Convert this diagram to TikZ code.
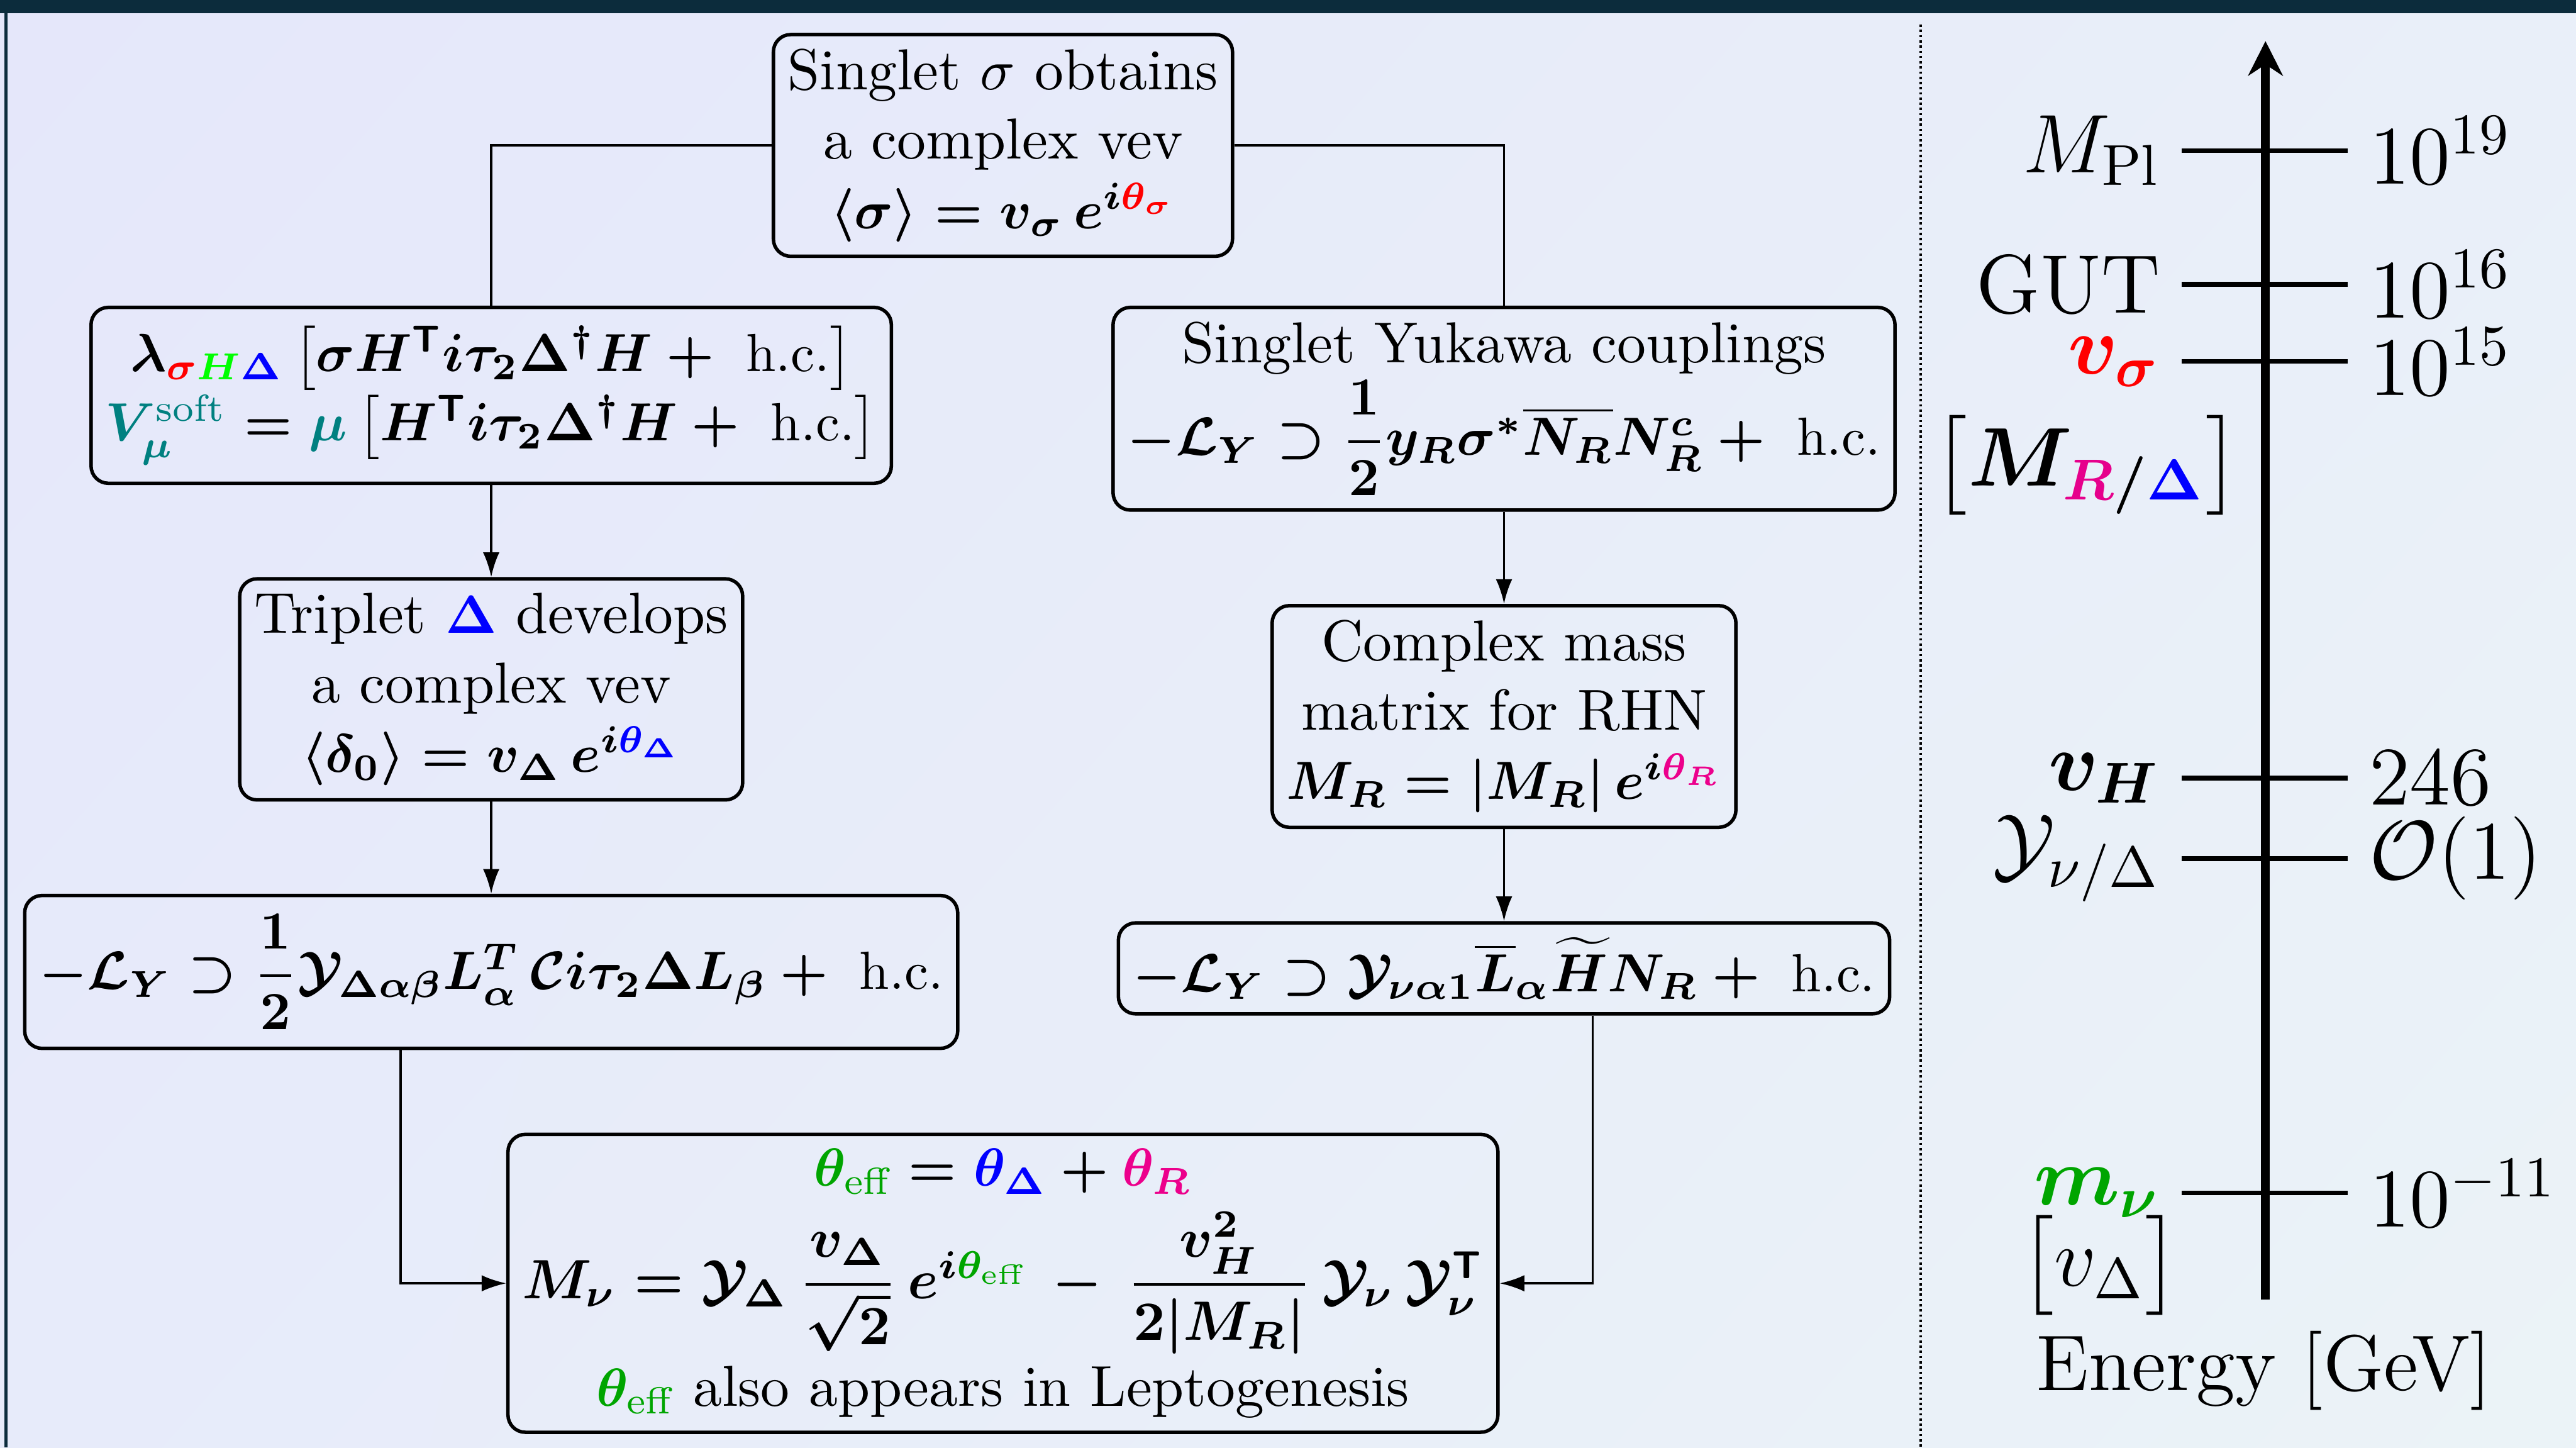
\documentclass[tikz,border=0pt]{standalone}
\usepackage{amsmath,amssymb}
\usepackage{graphicx}
\usepackage{tikz}
\usetikzlibrary{arrows.meta,positioning,shadings}
\definecolor{effgreen}{RGB}{0,165,0}
\definecolor{rpink}{RGB}{230,0,140}
\definecolor{bandblue}{RGB}{12,44,60}
\definecolor{bgtl}{RGB}{229,231,250}
\definecolor{bgtr}{RGB}{233,239,249}
\definecolor{bgbl}{RGB}{231,235,250}
\definecolor{bgbr}{RGB}{235,243,247}
\newcommand{\Lag}{\mathcal{L}}
\newcommand{\Yuk}{\mathcal{Y}}
\newcommand{\hcpart}{\text{ h.c.}}
\newcommand{\trn}{\mathsf{T}}
\newcommand{\thetaeff}{\textcolor{effgreen}{\theta_{\text{eff}}}}
\newcommand{\eqbf}[2][0.93]{\scalebox{#1}{\boldmath$#2$}}
\newcommand{\labbf}[1]{{\boldmath$#1$}}

\begin{document}
\begin{tikzpicture}[
      x=0.01cm,y=-0.01cm,
      node distance=0.56cm and 0.56cm,
      box/.style={draw=black,semithick,rounded corners=3pt,align=center,inner sep=2.5pt},
      link/.style={thin},
      arr/.style={-{Latex[length=1.5mm,width=1mm]},thin},
      axisline/.style={-{Stealth[length=2.1mm,width=2.1mm]},line width=1.5pt},
      tickline/.style={line width=0.8pt},
      scalelab/.style={font=\Large}
    ]
    \useasboundingbox (0,0) rectangle (1568,881);
    \shade[upper left=bgtl,upper right=bgtr,lower left=bgbl,lower right=bgbr] (0,0) rectangle (1568,881);
    \fill[bandblue] (0,0) rectangle (1568,8);
    \fill[bandblue] (2.5,8) rectangle (4.7,881);
    \draw[dash pattern=on 0.4pt off 0.5pt] (1169,15) -- (1169,881);

    \node[box] (sigma) at (610.5,88.5) {Singlet $\sigma$ obtains\\a complex vev\\\eqbf{\langle\sigma\rangle = v_\sigma\, e^{i\textcolor{red}{\theta_\sigma}}}};
    \node[box,anchor=north,minimum height=1.07cm] (portal) at (299,186) {\eqbf{\lambda_{\textcolor{red}{\sigma}\textcolor{green}{H}\textcolor{blue}{\Delta}}\,\big[\sigma H^{\trn} i\tau_2\Delta^\dagger H+\hcpart\big]}\\\eqbf{\textcolor{teal}{V_\mu^{\text{soft}}}=\textcolor{teal}{\mu}\,\big[H^{\trn} i\tau_2\Delta^\dagger H+\hcpart\big]}};
    \node[box,below=of portal] (triplet) {Triplet \eqbf{\textcolor{blue}{\Delta}} develops\\a complex vev\\\eqbf{\langle\delta_0\rangle=v_\Delta\, e^{i\textcolor{blue}{\theta_\Delta}}}};
    \node[box,below=of triplet,minimum height=0.93cm] (tripyuk) {\eqbf{-\Lag_Y\supset\dfrac{1}{2}\Yuk_{\Delta\alpha\beta}L_\alpha^T\,\mathcal{C}i\tau_2\Delta L_\beta+\hcpart}};
    \node[box,anchor=north] (singyuk) at (915.5,186) {Singlet Yukawa couplings\\\eqbf{-\Lag_Y\supset\dfrac{1}{2}y_R\sigma^*\overline{N_R}N_R^c+\hcpart}};
    \node[box,below=of singyuk] (massR) {Complex mass\\matrix for RHN\\\eqbf{M_R=|M_R|\, e^{i\textcolor{magenta}{\theta_R}}}};
    \node[box,below=of massR] (dirac) {\eqbf{-\Lag_Y\supset\Yuk_{\nu\alpha1}\overline{L}_\alpha\widetilde{H}N_R+\hcpart}};
    \node[box] (mnu) at (610.5,781) {\eqbf{\thetaeff=\textcolor{blue}{\theta_\Delta}+\textcolor{magenta}{\theta_R}}\\[2pt]\eqbf[0.96]{M_\nu=\Yuk_\Delta\,\dfrac{v_\Delta}{\sqrt2}\,e^{i\thetaeff}\,-\,\dfrac{v_H^2}{2|M_R|}\,\Yuk_\nu\,\Yuk_\nu^{\trn}}\\[1pt]\eqbf{\thetaeff} also appears in Leptogenesis};

    \draw[link] (sigma.west) -| (portal.north);
    \draw[link] (sigma.east) -| (singyuk.north);
    \draw[arr] (portal) -- (triplet);
    \draw[arr] (triplet) -- (tripyuk);
    \draw[arr] (singyuk) -- (massR);
    \draw[arr] (massR) -- (dirac);
    \draw[arr] ([xshift=-0.55cm]tripyuk.south) |- (mnu.west);
    \draw[arr] ([xshift=0.54cm]dirac.south) |- (mnu.east);

    \foreach \y/\nm/\lo/\hi in {91.6/pl/{$M_{\mathrm{Pl}}$}/{$10^{19}$},
        173/gut/{GUT}/{$10^{16}$},
        220/vs/{\labbf{\textcolor{red}{v_\sigma}}}/{$10^{15}$},
        473.5/vh/{\labbf{v_H}}/{$246$},
        522.5/yuk/{$\Yuk_{\nu/\Delta}$}/{$\mathcal{O}(1)$},
        726/mn/{\labbf{\textcolor{effgreen}{m_\nu}}}/{$10^{-11}$}}
      \draw[tickline] (1328,\y) node[left,scalelab] (lo-\nm) {\lo} -- (1429,\y) node[right,scalelab] (hi-\nm) {\hi};
    \draw[axisline] (1379,791) -- (1379,25);
    \node[scalelab] (mrlab) at (1270,283) {\labbf{\big[M_{\textcolor{rpink}{R}/\textcolor{blue}{\Delta}}\big]}};
    \node[scalelab] (vdlab) at (1278,770) {$\big[v_\Delta\big]$};
    \node[scalelab] (energy) at (1378,834) {\scalebox{0.95}{Energy [GeV]}};
  \end{tikzpicture}
\end{document}
